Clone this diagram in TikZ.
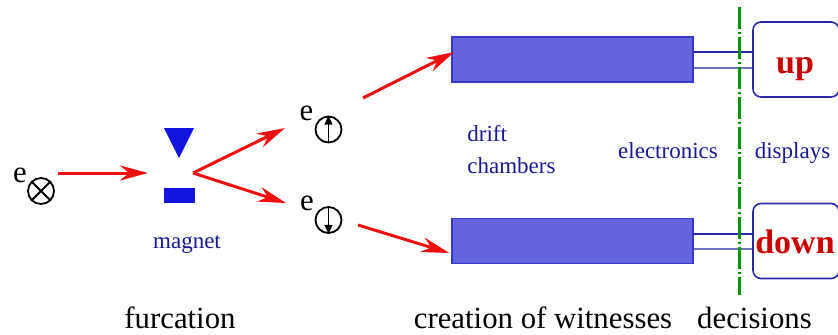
\documentclass[tikz,border=0pt]{standalone}
\usepackage{fontspec}
\setmainfont{Liberation Serif}
\usetikzlibrary{arrows.meta}
\definecolor{beamred}{RGB}{238,16,16}
\definecolor{magnetblue}{RGB}{20,20,225}
\definecolor{chamberfill}{RGB}{100,100,222}
\definecolor{chamberdraw}{RGB}{55,55,200}
\definecolor{labelblue}{RGB}{25,25,145}
\definecolor{wiredark}{RGB}{40,40,170}
\definecolor{wirelight}{RGB}{115,115,195}
\definecolor{screenred}{RGB}{200,0,0}
\definecolor{decisiongreen}{RGB}{0,150,0}

\begin{document}
\begin{tikzpicture}
[x=0.5pt,y=-0.5pt,
beam/.style={draw=beamred,line width=1.5pt,-{Stealth[length=14pt,width=7.5pt,inset=4.5pt]}},
spin/.style={circle,draw=black,line width=0.9pt,minimum size=13pt,inner sep=0pt},
chamber/.style={rectangle,draw=chamberdraw,fill=chamberfill,line width=0.7pt,minimum width=120.5pt,minimum height=22.5pt},
screen/.style={rectangle,rounded corners=4pt,draw=wiredark,line width=0.8pt,minimum width=43pt,minimum height=37.5pt},
verdict/.style={font=\fontsize{17}{20}\selectfont\bfseries,text=screenred,inner sep=0pt,anchor=base},
big/.style={font=\fontsize{15.4}{18}\selectfont,inner sep=0pt,anchor=base},
small/.style={font=\fontsize{11.5}{15}\selectfont,text=labelblue,inner sep=0pt,anchor=base}]
\clip (0,0) rectangle (838,334);
% incoming electron
\node[big] at (20,182) (ein) {e};
\node[spin] at (41,191) (sin) {};
\draw[line width=0.9pt] (sin.45) -- (sin.225) (sin.135) -- (sin.315);
% magnet
\fill[magnetblue] (164,128) -- (194,128) -- (179,158) -- cycle;
\fill[magnetblue] (164,188) rectangle (195,203);
\node[small] at (187,248) (magnet) {magnet};
% split beams
\node[big] at (306.5,120) (eup) {e};
\node[spin] at (328.5,129.5) (sup) {};
\draw[line width=0.8pt,-{Triangle[length=4.5pt,width=4pt]}] (sup.south) -- (sup.north);
\node[big] at (307,210) (edown) {e};
\node[spin] at (328.5,220) (sdown) {};
\draw[line width=0.8pt,-{Triangle[length=4.5pt,width=4pt]}] (sdown.north) -- (sdown.south);
\coordinate (src) at (58,173);
\coordinate (gap) at (148,173);
\coordinate (fork) at (193,173);
\coordinate (tipup) at (285,128);
\coordinate (tipdown) at (286,203);
\coordinate (outup) at (363,98);
\coordinate (outdown) at (358,225);
\draw[beam] (src) -- (gap);
\draw[beam] (fork) -- (tipup);
\draw[beam] (fork) -- (tipdown);
% drift chambers
\node[chamber] at (572.5,59.5) (cup) {};
\node[chamber] at (572.5,241) (cdown) {};
\draw[beam] (outup) -- ([xshift=1.5pt,yshift=3.75pt]cup.west);
\draw[beam] (outdown) -- ([xshift=-1pt,yshift=-6pt]cdown.west);
\node[small,anchor=base west,align=left] at (467,173) (drift) {drift\\[0.6pt]chambers};
\node[small] at (668,158) (elec) {electronics};
% displays
\node[screen] at (796,59.5) (dup) {};
\node[screen] at (796,241) (ddown) {};
\node[verdict] at (795,73) (wup) {up};
\node[verdict] at (795,253) (wdown) {down};
\node[small] at (792.5,158) (disp) {displays};
\draw[wiredark,line width=0.7pt] ([yshift=3.75pt]cup.east) -- ([yshift=3.75pt]dup.west);
\draw[wirelight,line width=0.7pt] ([yshift=-4.25pt]cup.east) -- ([yshift=-4.25pt]dup.west);
\draw[wiredark,line width=0.7pt] ([yshift=3.5pt]cdown.east) -- ([yshift=3.5pt]ddown.west);
\draw[wirelight,line width=0.7pt] ([yshift=-4pt]cdown.east) -- ([yshift=-4pt]ddown.west);
% decision line
\coordinate (dtop) at (739,7);
\coordinate (dbot) at (739,295);
\draw[decisiongreen,line width=1.5pt,dash pattern=on 11pt off 1.5pt on 1pt off 1.5pt] (dtop) -- (dbot);
% stages
\node[big] at (180,328) (furc) {furcation};
\node[big] at (543,328) (creat) {creation of witnesses};
\node[big] at (754.5,328) (decis) {decisions};
\end{tikzpicture}
\end{document}
